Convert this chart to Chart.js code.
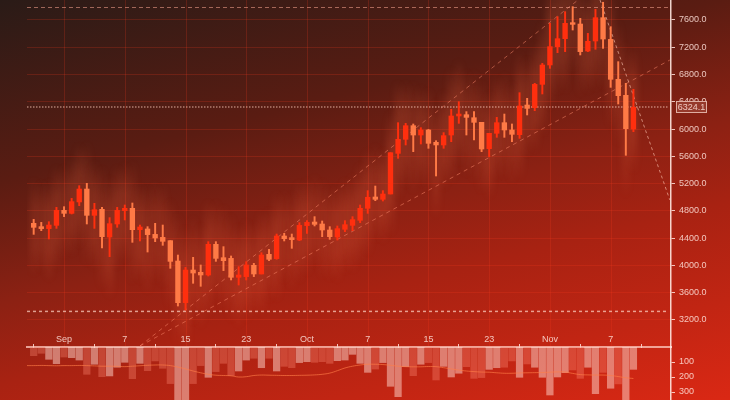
<!DOCTYPE html>
<html>
<head>
<meta charset="utf-8">
<style>
html, body { margin: 0; padding: 0; background: #8a2012; }
canvas { display: block; filter: blur(0.35px); }
</style>
</head>
<body>
<canvas id="chart" width="730" height="400"></canvas>
<script src="https://cdn.jsdelivr.net/npm/chart.js@4/dist/chart.umd.min.js"></script>
<script>
const opens = [4618,4569,4540,4588,4808,4764,4931,5121,4735,4823,4417,4608,4804,4838,4525,4535,4456,4412,4364,4065,3454,3933,3899,3860,4310,4114,
  4104,3826,3836,4002,3875,4163,4100,4432,4408,4373,4584,4637,4608,4520,4417,4530,4588,4662,4838,5004,4970,5048,5644,5850,6050,5913,5987,5806,5767,
  5913,6192,6211,6167,6099,5713,5938,6094,5987,5918,6353,6314,6656,6940,7209,7326,7561,7541,7145,7292,7634,7316,6730,6495,6001];
const closes = [4559,4540,4593,4808,4764,4936,5121,4735,4818,4422,4613,4808,4838,4525,4564,4452,4403,4354,4060,3454,3933,3889,3860,4310,4104,4070,
  3826,3860,4007,3875,4153,4090,4432,4393,4378,4588,4632,4603,4520,4422,4540,4598,4672,4838,5000,4970,5048,5654,5850,6050,5913,5987,5791,5767,5904,
  6192,6221,6172,6099,5708,5938,6094,5987,5923,6339,6304,6656,6940,7209,7326,7551,7536,7136,7287,7634,7321,6730,6490,6006,6319];
const highs = [4676,4632,4642,4852,4862,4984,5170,5204,4911,4852,4701,4852,4887,4916,4593,4569,4618,4593,4364,4153,3972,4119,4007,4349,4349,4276,
  4139,3982,4055,4031,4187,4236,4461,4471,4461,4628,4657,4716,4652,4569,4579,4657,4716,4887,5097,5165,5097,5654,6094,6084,6075,6021,5996,5830,5948,
  6290,6402,6256,6256,6099,5938,6172,6221,6075,6534,6451,6671,6964,7551,7649,7722,7796,7624,7404,7756,7860,7502,6989,6671,6583];
const lows = [4456,4510,4388,4544,4716,4755,4877,4608,4544,4256,4129,4559,4667,4339,4359,4197,4349,4295,3958,3405,3347,3738,3694,3845,4060,3924,
  3787,3713,3787,3836,3875,4070,4090,4359,4251,4364,4471,4579,4422,4383,4373,4496,4510,4628,4764,4950,4945,5048,5571,5767,5669,5781,5718,5312,5718,
  5815,6084,5913,5840,5669,5595,5879,5879,5815,5864,6207,6270,6515,6891,7121,7136,7453,7087,7136,7170,7184,6612,6368,5615,5962];
const volumes = [58,42,82,111,67,71,87,182,115,198,193,135,102,211,109,158,93,142,244,380,380,244,124,202,164,109,191,160,
  87,75,138,75,160,129,138,104,98,102,98,109,91,87,49,109,169,147,104,262,331,131,191,115,104,220,129,200,175,131,209,
  204,149,138,135,93,202,113,135,202,320,200,171,153,209,135,311,169,275,246,380,149];
const volumePale = [0,0,1,1,0,1,1,0,1,0,1,1,1,0,1,0,0,0,0,1,1,0,0,1,0,0,0,1,
  1,0,1,0,1,0,0,1,1,0,0,0,1,1,1,1,1,0,1,1,1,1,0,1,0,0,1,1,1,0,0,
  0,1,1,0,0,1,0,1,1,1,1,1,0,0,1,1,0,1,0,1,1];
// average starts one step left of the first candle
const volumeAvg = [124,124,123,124,125,124,124,123,124,126,128,128,129,131,128,125,122,120,120,124,134,146,160,172,182,188,190,192,200,198,190,187,188,189,190,190,189,188,186,182,174,158,140,128,120,115,115,117,122,128,131,132,132,130,131,138,146,154,160,164,167,168,172,175,175,173,172,171,170,168,166,167,176,184,186,187,187,190,197,205,210];
const tickPositions = [4, 12, 20, 28, 36, 44, 52, 60, 68, 76];
const tickLabels = ['Sep', '7', '15', '23', 'Oct', '7', '15', '23', 'Nov', '7'];
const priceTicks = [3200, 3600, 4000, 4400, 4800, 5200, 5600, 6000, 6400, 6800, 7200, 7600];
const volumeTicks = [100, 200, 300];
const lastPrice = 6324.1;
const levels = [7783, 3326];
const upperTrend = [{x: 14, y: 2819}, {x: 71.7, y: 7893}];
const lowerTrend = [{x: 14, y: 2819}, {x: 83.8, y: 7013}];
const fallTrend = [{x: 74.6, y: 7893}, {x: 83.8, y: 4960}];

const RED = '#ff2f0e';
const PALE = '#ff7a46';
const LABEL = 'rgba(255,226,218,0.85)';
const GRID = 'rgba(255,60,30,0.2)';
const xMin = -0.88, xMax = 83.95;

const idx = opens.map((_, i) => i);
const candleColor = idx.map(i => closes[i] >= opens[i] ? RED : PALE);

function hline(v) { return [{x: xMin, y: v}, {x: 83.6, y: v}]; }
function lineSet(data, dash, color, width) {
    return { type: 'line', data: data, borderColor: color, borderWidth: width || 1, borderDash: dash,
        pointRadius: 0, order: 5, yAxisID: 'y' };
}
function noPadding(s) {
    s.paddingTop = 0; s.paddingBottom = 0; s.paddingLeft = 0; s.paddingRight = 0;
}

// background, vertical grid lines, soft glow round the candles
const backdrop = {
    id: 'backdrop',
    beforeDraw(chart) {
        const { ctx, scales: { x, y, yVol } } = chart;
        const g = ctx.createLinearGradient(0, 0, 137, 548);
        g.addColorStop(0, '#2a1b17');
        g.addColorStop(0.31, '#5a1c12');
        g.addColorStop(0.52, '#8c2113');
        g.addColorStop(0.66, '#a82212');
        g.addColorStop(1, '#da2814');
        ctx.fillStyle = g;
        ctx.fillRect(0, 0, chart.width, chart.height);
        ctx.save();
        ctx.strokeStyle = GRID;
        ctx.lineWidth = 1;
        const bottom = yVol.getPixelForValue(0);
        tickPositions.forEach(t => {
            const px = Math.round(x.getPixelForValue(t)) + 0.5;
            ctx.beginPath();
            ctx.moveTo(px, 0);
            ctx.lineTo(px, bottom);
            ctx.stroke();
        });
        ctx.beginPath();
        ctx.rect(x.left, 0, x.right - x.left, bottom);
        ctx.clip();
        ctx.filter = 'blur(3px)';
        idx.forEach(i => {
            const px = x.getPixelForValue(i);
            const top = y.getPixelForValue(highs[i]);
            const low = y.getPixelForValue(lows[i]);
            const grad = ctx.createLinearGradient(0, top - 42, 0, low + 42);
            const a = closes[i] >= opens[i] ? 0.24 : 0.18;
            grad.addColorStop(0, 'rgba(255,120,80,0)');
            grad.addColorStop(0.3, 'rgba(255,120,80,' + a + ')');
            grad.addColorStop(0.7, 'rgba(255,120,80,' + a + ')');
            grad.addColorStop(1, 'rgba(255,120,80,0)');
            ctx.fillStyle = grad;
            ctx.fillRect(px - 3, top - 42, 6, low - top + 84);
        });
        ctx.restore();
    },
    afterDraw(chart) {
        const { ctx, scales: { y } } = chart;
        const py = y.getPixelForValue(lastPrice);
        ctx.save();
        ctx.fillStyle = '#96392b';
        ctx.strokeStyle = 'rgba(255,225,215,0.7)';
        ctx.lineWidth = 1;
        ctx.fillRect(676, py - 6, 31, 12);
        ctx.strokeRect(676.5, py - 5.5, 30, 11);
        ctx.fillStyle = LABEL;
        ctx.font = '9px "Liberation Sans"';
        ctx.textAlign = 'center';
        ctx.textBaseline = 'middle';
        ctx.fillText(lastPrice.toFixed(1), 691.5, py + 0.5);
        ctx.restore();
    }
};

new Chart(document.getElementById('chart').getContext('2d'), {
    data: {
        datasets: [
            lineSet(hline(levels[0]), [4, 3], 'rgba(255,170,150,0.55)'),
            lineSet(hline(lastPrice), [1.5, 1.5], 'rgba(255,205,190,0.55)', 1.5),
            lineSet(hline(levels[1]), [3, 3], 'rgba(255,215,200,0.7)', 1.5),
            lineSet(upperTrend, [4, 4], 'rgba(255,140,110,0.5)'),
            lineSet(lowerTrend, [4, 4], 'rgba(255,140,110,0.5)'),
            lineSet(fallTrend, [3, 3], 'rgba(255,200,180,0.6)'),
            { type: 'bar', data: idx.map(i => ({x: i, y: [lows[i], highs[i]]})), backgroundColor: candleColor,
                barThickness: 1.3, grouped: false, order: 2, yAxisID: 'y' },
            { type: 'bar', data: idx.map(i => ({x: i, y: [opens[i], closes[i]]})), backgroundColor: candleColor,
                barThickness: 4.7, grouped: false, order: 1, yAxisID: 'y' },
            { type: 'bar', data: idx.map(i => ({x: i, y: volumes[i]})),
                backgroundColor: volumePale.map(p => p ? 'rgba(255,215,205,0.5)' : 'rgba(255,140,120,0.34)'),
                barThickness: 6.6, grouped: false, order: 4, yAxisID: 'yVol' },
            { type: 'line', data: volumeAvg.map((v, i) => ({x: i - 1, y: v})), borderColor: 'rgba(255,125,70,0.65)',
                borderWidth: 1, pointRadius: 0, tension: 0.4, order: 3, yAxisID: 'yVol' }
        ]
    },
    plugins: [backdrop],
    options: {
        responsive: false,
        animation: false,
        devicePixelRatio: 1,
        layout: { padding: { left: 27, top: 0, right: 0, bottom: 0 } },
        plugins: { legend: { display: false }, tooltip: { enabled: false } },
        scales: {
            x: {
                type: 'linear',
                offset: false,
                bounds: 'data',
                min: xMin,
                max: xMax,
                position: { yVol: 0 },
                afterFit: noPadding,
                afterBuildTicks: s => { s.ticks = tickPositions.map(v => ({value: v})); },
                grid: { drawOnChartArea: false, tickLength: -4, tickColor: 'rgba(255,226,218,0.85)' },
                border: { color: 'rgba(255,205,195,0.75)', width: 2 },
                ticks: {
                    autoSkip: false,
                    maxRotation: 0,
                    padding: -9,
                    color: LABEL,
                    font: { family: 'Liberation Sans', size: 9 },
                    callback: v => tickLabels[tickPositions.indexOf(v)]
                }
            },
            y: {
                position: 'right',
                bounds: 'data',
                stack: 'right',
                stackWeight: 347,
                min: 2804,
                max: 7893.3,
                afterFit: s => { s.width = 59; noPadding(s); },
                afterBuildTicks: s => { s.ticks = priceTicks.map(v => ({value: v})); },
                grid: { color: GRID, tickColor: 'rgba(255,226,218,0.85)', tickLength: 4 },
                border: { color: 'rgba(255,232,225,0.9)', width: 1.5 },
                ticks: {
                    autoSkip: false,
                    padding: 4,
                    color: LABEL,
                    font: { family: 'Liberation Sans', size: 9 },
                    callback: v => v.toFixed(1)
                }
            },
            yVol: {
                position: 'right',
                bounds: 'data',
                stack: 'right',
                stackWeight: 53,
                reverse: true,
                min: 0,
                max: 353.3,
                afterFit: s => { s.width = 59; noPadding(s); },
                afterBuildTicks: s => { s.ticks = volumeTicks.map(v => ({value: v})); },
                grid: { drawOnChartArea: false, tickColor: 'rgba(255,226,218,0.85)', tickLength: 4 },
                border: { color: 'rgba(255,232,225,0.9)', width: 1.5 },
                ticks: {
                    autoSkip: false,
                    padding: 4,
                    color: LABEL,
                    font: { family: 'Liberation Sans', size: 9 }
                }
            }
        }
    }
});
</script>
</body>
</html>
